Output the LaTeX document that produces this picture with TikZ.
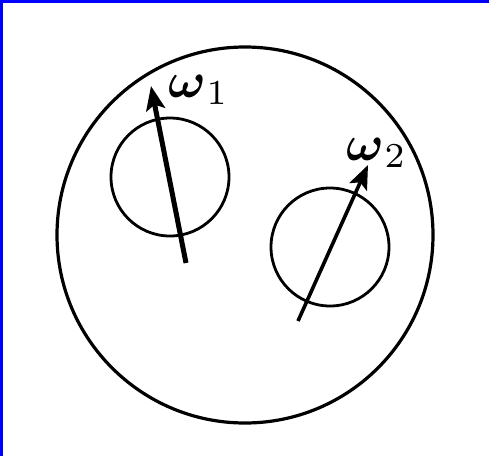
\documentclass[tikz,border=0pt]{standalone}
\usepackage{amsmath, amssymb}
\usepackage{tikz}
\usetikzlibrary{arrows.meta, positioning}

\begin{document}
\begin{tikzpicture}[
        x=1pt, y=-1pt,
        vessel/.style={circle, draw, line width=3.2pt, minimum size=376pt, inner sep=0pt},
        eddy/.style={circle, draw, line width=2.8pt, minimum size=118pt, inner sep=0pt},
        spin/.style={line width=#1, -{Stealth[length=24pt, width=19pt, inset=5pt]}},
        spinlabel/.style={xscale=5, yscale=5, inner sep=0pt}
    ]

    \useasboundingbox (0,0) rectangle (489,456);

    % Scan edge (blue strips)
    \fill[blue] (0,0) rectangle (3,456);
    \fill[blue] (0,0) rectangle (489,3);

    % Outer container
    \node[vessel] (outer) at (245,235) {};

    % Two small circles
    \node[eddy] (eddyA) at (170,177) {};
    \node[eddy] (eddyB) at (330,247) {};

    % Axis end points
    \coordinate (tailA) at (186,263);
    \coordinate (tipA) at (151,86);
    \coordinate (tailB) at (298,321);
    \coordinate (tipB) at (368,165);

    % --- Vectors ---
    \draw[spin=5pt] (tailA) -- (tipA);
    \draw[spin=3.6pt] (tailB) -- (tipB);

    % Labels
    \node[spinlabel] (labelA) at (199,90) {$\boldsymbol{\omega}_1$};
    \node[spinlabel] (labelB) at (377,153) {$\boldsymbol{\omega}_2$};

\end{tikzpicture}
\end{document}
